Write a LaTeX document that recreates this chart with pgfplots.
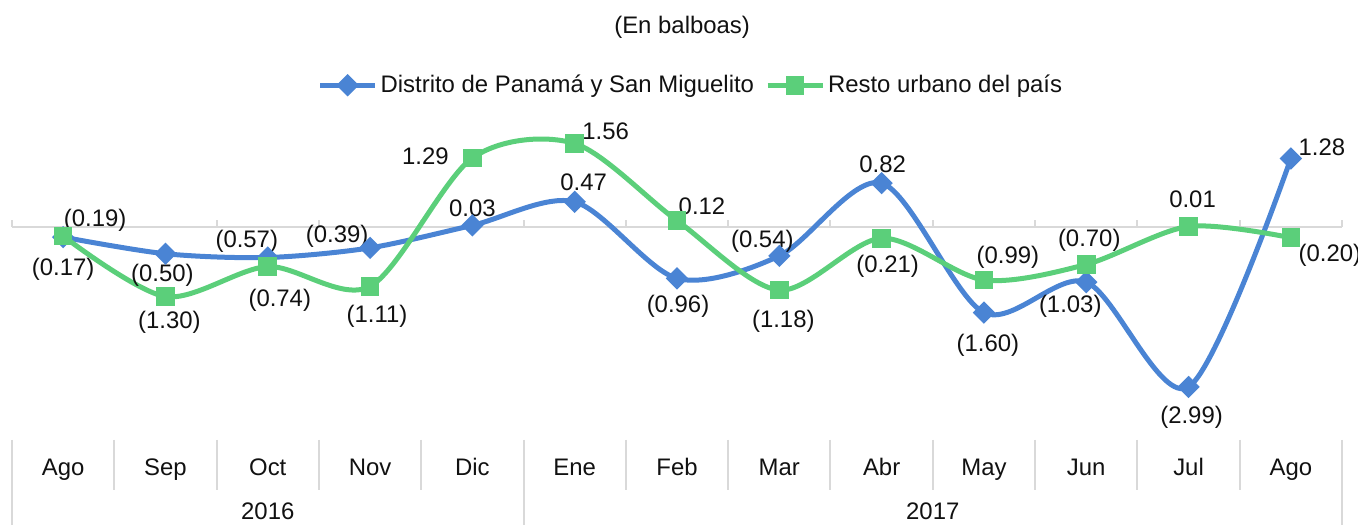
\documentclass[border=0pt]{standalone}
\usepackage{fontspec}
\setmainfont{Liberation Sans}
\usepackage{pgfplots}
\pgfplotsset{compat=1.18}
\usetikzlibrary{calc}
\definecolor{cblue}{HTML}{4A84D4}
\definecolor{cgreen}{HTML}{5BCF7A}
\definecolor{cgrid}{HTML}{D9D9D9}
\definecolor{ctext}{HTML}{111111}

% label at a data point, shifted in bp
\newcommand{\lab}[5]{\node[text=ctext, inner sep=0pt] at (axis cs:#1,#2) [xshift=#3bp, yshift=#4bp] {#5};}
\tikzset{cat/.style={text=ctext, inner sep=0pt, text height=1.55ex, text depth=0.45ex}}

\begin{document}
\begin{tikzpicture}[font=\fontsize{12}{14}\selectfont]
\begin{axis}[
    scale only axis,
    width=665bp, height=202.5bp,
    xmin=-0.5, xmax=12.5,
    ymin=-5.57, ymax=2.0,
    hide axis,
    clip=false,
    legend columns=2,
    legend style={at={(axis cs:6.14,2.65)}, anchor=center, draw=none, fill=none,
        inner sep=0pt, font=\fontsize{12}{14}\selectfont,
        nodes={inner sep=1.5bp, text=ctext},
        /tikz/every even column/.append style={column sep=4bp}},
    legend image code/.code={
        \draw[mark repeat=2, mark phase=2] plot coordinates {(0bp,0bp) (13.75bp,0bp) (27.5bp,0bp)};
    },
]
\coordinate (o) at (rel axis cs:0,0);

% zero line with ticks
\draw[cgrid, line width=1bp] (axis cs:-0.5,0) -- (axis cs:12.5,0);
\pgfplotsinvokeforeach{-0.5,0.5,...,12.5}{
    \draw[cgrid, line width=1bp] (axis cs:#1,0) -- (axis cs:#1,0.13);
}
% category table
\pgfplotsinvokeforeach{0.5,1.5,2.5,3.5,5.5,6.5,7.5,8.5,9.5,10.5,11.5}{
    \draw[cgrid, line width=1bp] (axis cs:#1,-3.98) -- (axis cs:#1,-4.92);
}
\pgfplotsinvokeforeach{-0.5,4.5,12.5}{
    \draw[cgrid, line width=1bp] (axis cs:#1,-3.98) -- (axis cs:#1,-5.57);
}

\addplot[cblue, line width=2.5bp, smooth, tension=0.5, mark=square*, mark size=2.7bp,
    mark options={rotate=45, solid}] coordinates {
    (0,-0.19) (1,-0.50) (2,-0.57) (3,-0.39) (4,0.03) (5,0.47) (6,-0.96)
    (7,-0.54) (8,0.82) (9,-1.60) (10,-1.03) (11,-2.99) (12,1.28)
};
\addlegendentry{Distrito de Panamá y San Miguelito}

\addplot[cgreen, line width=2.5bp, smooth, tension=0.5, mark=square*, mark size=3.4bp,
    mark options={solid}] coordinates {
    (0,-0.17) (1,-1.30) (2,-0.74) (3,-1.11) (4,1.29) (5,1.56) (6,0.12)
    (7,-1.18) (8,-0.21) (9,-0.99) (10,-0.70) (11,0.01) (12,-0.20)
};
\addlegendentry{Resto urbano del país}

% data labels, blue series
\lab{0}{-0.19}{16}{8.5}{(0.19)}
\lab{1}{-0.50}{-1.5}{-11}{(0.50)}
\lab{2}{-0.57}{-10.5}{8}{(0.57)}
\lab{3}{-0.39}{-16.5}{6}{(0.39)}
\lab{4}{0.03}{0}{8.5}{0.03}
\lab{5}{0.47}{4.5}{10}{0.47}
\lab{6}{-0.96}{0.5}{-14}{(0.96)}
\lab{7}{-0.54}{-8.5}{7.5}{(0.54)}
\lab{8}{0.82}{0.5}{9.5}{0.82}
\lab{9}{-1.60}{2}{-16.5}{(1.60)}
\lab{10}{-1.03}{-8}{-12}{(1.03)}
\lab{11}{-2.99}{1.5}{-15}{(2.99)}
\lab{12}{1.28}{15.5}{5.5}{1.28}

% data labels, green series
\lab{0}{-0.17}{0}{-16.5}{(0.17)}
\lab{1}{-1.30}{2}{-13}{(1.30)}
\lab{2}{-0.74}{6}{-17}{(0.74)}
\lab{3}{-1.11}{3.5}{-15}{(1.11)}
\lab{4}{1.29}{-23.5}{1}{1.29}
\lab{5}{1.56}{15.5}{6}{1.56}
\lab{6}{0.12}{12.5}{7}{0.12}
\lab{7}{-1.18}{2}{-15.5}{(1.18)}
\lab{8}{-0.21}{3}{-14}{(0.21)}
\lab{9}{-0.99}{12}{11.5}{(0.99)}
\lab{10}{-0.70}{1.5}{12}{(0.70)}
\lab{11}{0.01}{2}{13.5}{0.01}
\lab{12}{-0.20}{19.5}{-9}{(0.20)}

% months and years
\node[cat] at (axis cs:0,-4.54) {Ago};
\node[cat] at (axis cs:1,-4.54) {Sep};
\node[cat] at (axis cs:2,-4.54) {Oct};
\node[cat] at (axis cs:3,-4.54) {Nov};
\node[cat] at (axis cs:4,-4.54) {Dic};
\node[cat] at (axis cs:5,-4.54) {Ene};
\node[cat] at (axis cs:6,-4.54) {Feb};
\node[cat] at (axis cs:7,-4.54) {Mar};
\node[cat] at (axis cs:8,-4.54) {Abr};
\node[cat] at (axis cs:9,-4.54) {May};
\node[cat] at (axis cs:10,-4.54) {Jun};
\node[cat] at (axis cs:11,-4.54) {Jul};
\node[cat] at (axis cs:12,-4.54) {Ago};
\node[cat] at (axis cs:2,-5.35) {2016};
\node[cat] at (axis cs:8.5,-5.35) {2017};

% title
\node[cat] at (axis cs:6.05,3.72) {(En balboas)};
\end{axis}
\pgfresetboundingbox
\path ($(o)+(-6bp,0)$) rectangle ($(o)+(673bp,262.5bp)$);
\end{tikzpicture}
\end{document}
